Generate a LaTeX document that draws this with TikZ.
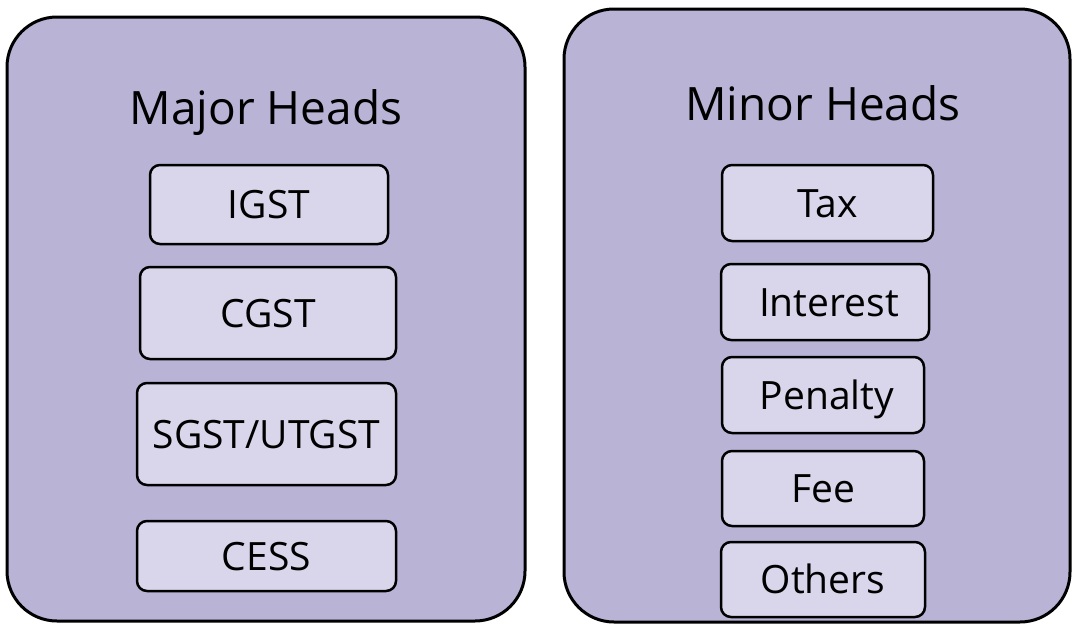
\documentclass[tikz,border=0pt]{standalone}
\usepackage{fontspec}
\setmainfont{Open Sans}
\definecolor{outerfill}{RGB}{185,179,214}
\definecolor{innerfill}{RGB}{217,213,234}
\begin{document}
\begin{tikzpicture}[x=1pt,y=-1pt,
  panel/.style={draw=black, line width=3pt, fill=outerfill, rounded corners=50pt,
    inner sep=0pt, outer sep=0pt},
  item/.style={draw=black, line width=2.5pt, fill=innerfill, rounded corners=10pt,
    inner sep=0pt, outer sep=0pt, font=\fontsize{39}{40}\selectfont,
    text height=28pt, text depth=0pt},
  heading/.style={anchor=base, inner sep=0pt, font=\fontsize{46}{48}\selectfont}]
  \useasboundingbox (0,0) rectangle (1072,624);

  % outer panels
  \node[panel, minimum width=518pt, minimum height=604pt] (major) at (266,319) {};
  \node[panel, minimum width=506pt, minimum height=613pt] (minor) at (817,315.5) {};

  % headings
  \node[heading] (majort) at (266,124) {Major Heads};
  \node[heading] (minort) at (823,120) {Minor Heads};

  % major heads
  \node[item, minimum width=238pt, minimum height=79pt]  (igst) at (269,204.5) {IGST};
  \node[item, minimum width=256pt, minimum height=92pt]  (cgst) at (268,313) {CGST};
  \node[item, minimum width=259pt, minimum height=102pt] (sgst) at (266.5,434) {SGST/UTGST};
  \node[item, minimum width=259pt, minimum height=70pt]  (cess) at (266.5,556) {CESS};

  % minor heads
  \node[item, minimum width=211pt, minimum height=76pt] (tax) at (827.5,203) {Tax};
  \node[item, minimum width=208pt, minimum height=76pt] (interest) at (825,302) {\hspace{8pt}Interest};
  \node[item, minimum width=202pt, minimum height=76pt] (penalty) at (823,395) {\hspace{8pt}Penalty};
  \node[item, minimum width=202pt, minimum height=75pt] (fee) at (823,488.5) {Fee};
  \node[item, minimum width=204pt, minimum height=75pt] (others) at (823,579.5) {Others};
\end{tikzpicture}
\end{document}
